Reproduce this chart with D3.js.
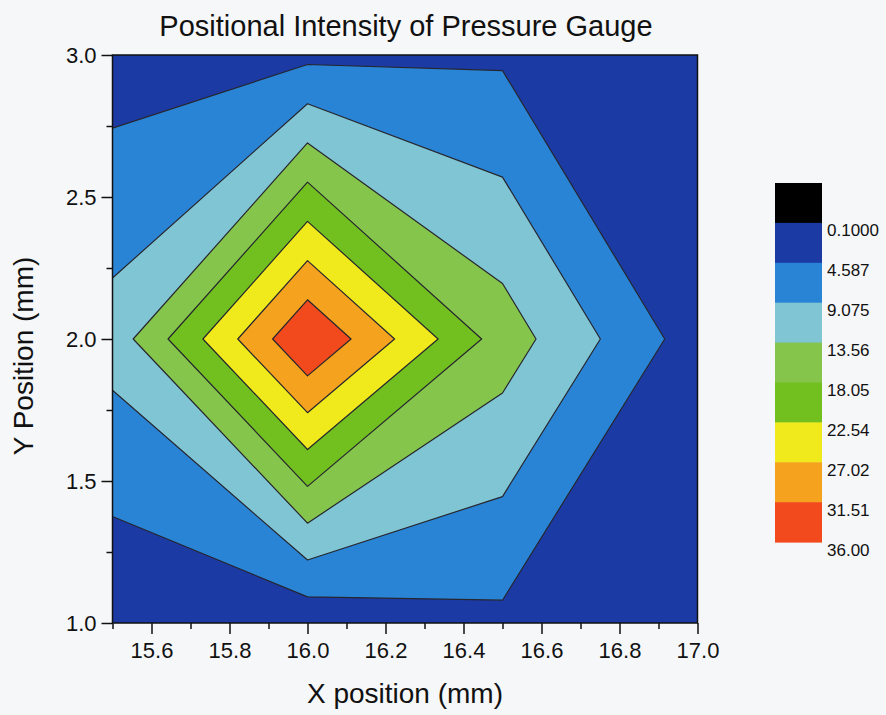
<!DOCTYPE html>
<html>
<head>
<meta charset="utf-8">
<script src="https://cdn.jsdelivr.net/npm/d3@7/dist/d3.min.js"></script>
<style>
body { margin: 0; background: #f6f7f8; }
svg { display: block; font-family: "Liberation Sans", Arial, sans-serif; }
</style>
</head>
<body>
<div id="chart"></div>
<script>
// measurement grid
var xPositions = [15.5, 16.0, 16.5, 17.0];
var yPositions = [1.0, 2.0, 3.0];
// intensity, one row per y position (bottom to top)
var rowY1 = [0.8, 1.4, 3.6, 0.1];
var rowY2 = [10.9, 36.0, 15.9, 2.3];
var rowY3 = [2.4, 3.5, 3.93, 1.2];

var levels = [0.1, 4.5875, 9.075, 13.5625, 18.05, 22.5375, 27.025, 31.5125];
var levelLabels = ["0.1000", "4.587", "9.075", "13.56", "18.05", "22.54", "27.02", "31.51", "36.00"];
var levelColors = ["#1c3aa3", "#2a84d6", "#80c5d3", "#86c54c", "#72bf20", "#f0ea1c", "#f5a21e", "#f24a1c"];

var xMajor = [15.6, 15.8, 16.0, 16.2, 16.4, 16.6, 16.8, 17.0];
var xMinor = [15.5, 15.7, 15.9, 16.1, 16.3, 16.5, 16.7, 16.9];
var yMajor = [1.0, 1.5, 2.0, 2.5, 3.0];
var yMinor = [1.25, 1.75, 2.25, 2.75];

var W = 886, H = 715;
var plot = { left: 112.5, right: 697.5, top: 55, bottom: 623 };

var svg = d3.select("#chart").append("svg")
    .attr("width", W)
    .attr("height", H);

var x = d3.scaleLinear().domain([15.5, 17.0]).range([plot.left, plot.right]);
var y = d3.scaleLinear().domain([1.0, 3.0]).range([plot.bottom, plot.top]);

// grid index -> data position (d3.contours puts sample i at i + 0.5)
var nx = xPositions.length, ny = yPositions.length;
var gx = d3.scaleLinear().domain([0.5, nx - 0.5]).range([x(xPositions[0]), x(xPositions[nx - 1])]);
var gy = d3.scaleLinear().domain([0.5, ny - 0.5]).range([y(yPositions[0]), y(yPositions[ny - 1])]);

var values = rowY1.concat(rowY2, rowY3);
var contours = d3.contours().size([nx, ny]).thresholds(levels)(values);

var path = d3.geoPath(d3.geoTransform({
    point: function (px, py) { this.stream.point(gx(px), gy(py)); }
}));

svg.append("clipPath").attr("id", "plotClip")
    .append("rect")
    .attr("x", plot.left).attr("y", plot.top)
    .attr("width", plot.right - plot.left)
    .attr("height", plot.bottom - plot.top);

svg.append("g")
    .attr("clip-path", "url(#plotClip)")
    .selectAll("path")
    .data(contours)
    .enter()
    .append("path")
    .attr("d", path)
    .attr("fill", function (d, i) { return levelColors[i]; })
    .attr("stroke", "#26262e")
    .attr("stroke-width", 1.2)
    .attr("stroke-linejoin", "round");

// frame
svg.append("rect")
    .attr("x", plot.left).attr("y", plot.top)
    .attr("width", plot.right - plot.left)
    .attr("height", plot.bottom - plot.top)
    .attr("fill", "none")
    .attr("stroke", "#111")
    .attr("stroke-width", 1.5);

// axes
function styleAxis(g) {
    g.select(".domain").remove();
    g.selectAll(".tick line").attr("stroke", "#111").attr("stroke-width", 1.5);
    g.selectAll("text").attr("fill", "#111").style("font-size", "22px")
        .style("font-family", "'Liberation Sans', Arial, sans-serif");
}

svg.append("g")
    .attr("transform", "translate(0," + plot.bottom + ")")
    .call(d3.axisBottom(x).tickValues(xMinor).tickSize(6).tickFormat(""))
    .call(styleAxis);
svg.append("g")
    .attr("transform", "translate(0," + plot.bottom + ")")
    .call(d3.axisBottom(x).tickValues(xMajor).tickSize(11).tickPadding(8).tickFormat(d3.format(".1f")))
    .call(styleAxis);

svg.append("g")
    .attr("transform", "translate(" + plot.left + ",0)")
    .call(d3.axisLeft(y).tickValues(yMinor).tickSize(6).tickFormat(""))
    .call(styleAxis);
svg.append("g")
    .attr("transform", "translate(" + plot.left + ",0)")
    .call(d3.axisLeft(y).tickValues(yMajor).tickSize(11).tickPadding(5).tickFormat(d3.format(".1f")))
    .call(styleAxis);

// titles
svg.append("text")
    .attr("x", 406).attr("y", 36)
    .attr("text-anchor", "middle")
    .style("font-size", "29px")
    .attr("fill", "#111")
    .text("Positional Intensity of Pressure Gauge");

svg.append("text")
    .attr("x", 405).attr("y", 703)
    .attr("text-anchor", "middle")
    .style("font-size", "28px")
    .attr("fill", "#111")
    .text("X position (mm)");

svg.append("text")
    .attr("transform", "translate(33,356) rotate(-90)")
    .attr("text-anchor", "middle")
    .style("font-size", "28px")
    .attr("fill", "#111")
    .text("Y Position (mm)");

// colour scale
var barColors = ["#000000"].concat(levelColors);
var bar = { x: 775, y: 183, w: 47, h: 39.9 };
var cb = d3.scaleBand().domain(d3.range(barColors.length))
    .range([bar.y, bar.y + bar.h * barColors.length]).padding(0);

svg.append("g").selectAll("rect")
    .data(barColors)
    .enter()
    .append("rect")
    .attr("x", bar.x)
    .attr("y", function (d, i) { return cb(i); })
    .attr("width", bar.w)
    .attr("height", cb.bandwidth() + 0.5)
    .attr("fill", function (d) { return d; });

svg.append("g").selectAll("text")
    .data(levelLabels)
    .enter()
    .append("text")
    .attr("x", bar.x + bar.w + 5)
    .attr("y", function (d, i) { return cb(i) + cb.bandwidth() + 9; })
    .attr("dominant-baseline", "middle")
    .style("font-size", "17px")
    .attr("fill", "#111")
    .text(function (d) { return d; });
</script>
</body>
</html>
